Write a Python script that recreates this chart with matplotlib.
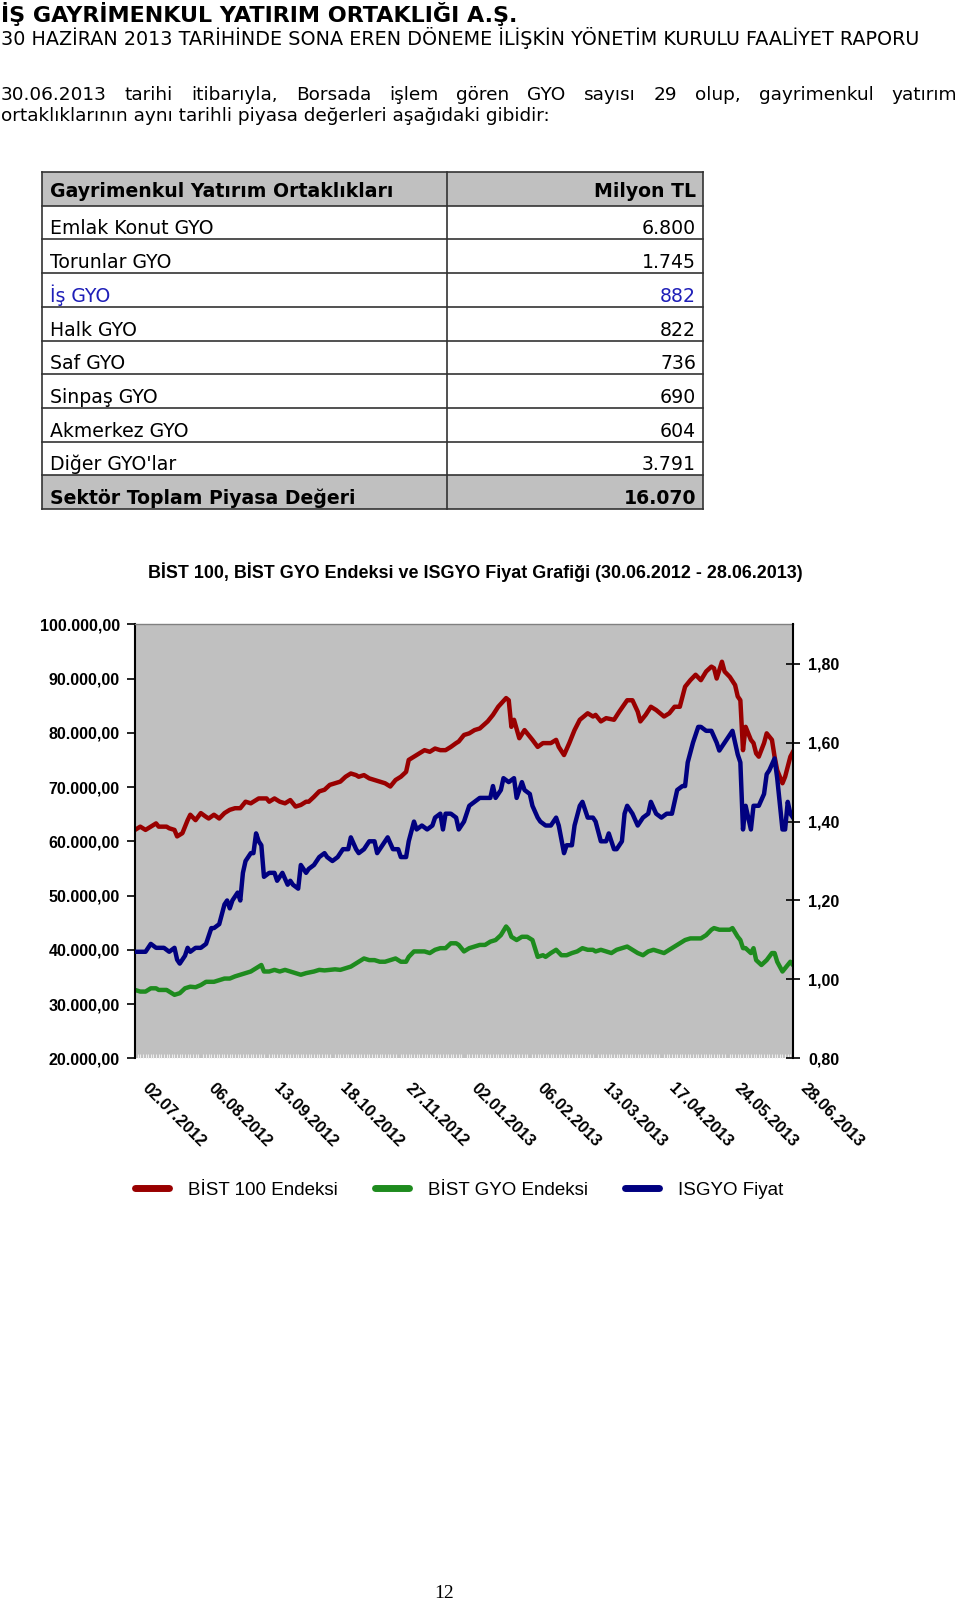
import matplotlib
matplotlib.use('Agg')
import matplotlib.pyplot as plt
import matplotlib.transforms as mtransforms
from matplotlib import font_manager
from matplotlib.lines import Line2D
from matplotlib.patches import Rectangle
from matplotlib.ticker import FuncFormatter, MultipleLocator

W, H = 960, 1605

# ---- page text ----
header_title = 'İŞ GAYRİMENKUL YATIRIM ORTAKLIĞI A.Ş.'
header_sub = '30 HAZİRAN 2013 TARİHİNDE SONA EREN DÖNEME İLİŞKİN YÖNETİM KURULU FAALİYET RAPORU'
para_line1 = '30.06.2013 tarihi itibarıyla, Borsada işlem gören GYO sayısı 29 olup, gayrimenkul yatırım'
para_line2 = 'ortaklıklarının aynı tarihli piyasa değerleri aşağıdaki gibidir:'
page_no = '12'

# ---- table ----
table_cols = ['Gayrimenkul Yatırım Ortaklıkları', 'Milyon TL']
companies = ['Emlak Konut GYO', 'Torunlar GYO', 'İş GYO', 'Halk GYO', 'Saf GYO',
             'Sinpaş GYO', 'Akmerkez GYO', "Diğer GYO'lar"]
values_mtl = [6800, 1745, 882, 822, 736, 690, 604, 3791]
total_label = 'Sektör Toplam Piyasa Değeri'
total_value = 16070

# ---- chart ----
chart_title = 'BİST 100, BİST GYO Endeksi ve ISGYO Fiyat Grafiği (30.06.2012 - 28.06.2013)'
date_labels = ['02.07.2012', '06.08.2012', '13.09.2012', '18.10.2012', '27.11.2012',
               '02.01.2013', '06.02.2013', '13.03.2013', '17.04.2013', '24.05.2013', '28.06.2013']
series_names = ['BİST 100 Endeksi', 'BİST GYO Endeksi', 'ISGYO Fiyat']

# trading day index (0 = 02.07.2012, 250 = 28.06.2013)
bist100_days = [0, 2, 4, 6, 8, 9, 12, 13, 15, 16, 18, 20, 21, 23, 25, 27, 28, 30, 32, 34,
                36, 38, 40, 42, 44, 46, 47, 50, 51, 53, 55, 57, 59, 61, 63, 65, 66, 68, 70, 72,
                74, 76, 78, 80, 82, 84, 85, 87, 89, 91, 93, 95, 97, 99, 101, 103, 104, 106, 108, 110,
                112, 114, 116, 118, 120, 122, 123, 125, 127, 129, 131,
                134, 136, 138, 141, 142, 143, 144, 146, 148, 149, 151, 153, 155, 158, 160, 161, 163, 165, 167, 169,
                172, 174, 175, 177, 179, 182, 184, 187, 189, 191, 192, 194, 196, 198, 201, 203, 205, 207, 209, 211,
                213, 215, 217, 219, 220, 221, 223, 224, 226, 228, 229, 230, 231, 232, 234, 235, 236, 237, 239, 240,
                242, 243, 244, 246, 247, 249, 250]
bist100 = [62100, 62700, 62100, 62700, 63300, 62700, 62700, 62400, 62100, 60900,
           61500, 63900, 64900, 63900, 65200, 64500, 64200, 64900, 64200, 65200,
           65800, 66100, 66100, 67300, 67000, 67600, 67900, 67900, 67300, 67900,
           67300, 67000, 67600, 66400, 66700, 67300, 67300, 68200, 69200, 69500,
           70400, 70700, 71000, 71900, 72500, 72200, 71900, 72200, 71600, 71300,
           71000, 70700, 70100, 71300, 71900, 72800, 75000, 75600, 76200, 76800,
           76500, 77100, 76800, 76800, 77400, 78100, 78400, 79600, 79900, 80500, 80800,
           82100, 83300, 84800, 86400, 86000, 81100, 82400, 79000, 80500, 79900,
           78700, 77400, 78100, 78100, 78700, 77400, 75900, 78100, 80500, 82400,
           83600, 83000, 83300, 82100, 82700, 82400, 83900, 86000, 86000, 83900,
           82100, 83300, 84800, 84200, 83000, 83600, 84800, 84800, 88500, 89700,
           90700, 89700, 91300, 92200, 91900, 90000, 93100, 91300, 90300, 88800,
           86700, 86000, 76800, 81100, 78700, 78100, 76200, 75600, 78100, 79900,
           78700, 75600, 73100, 70700, 71900, 75600, 76500]

gyo_days = [0, 2, 4, 6, 8, 9, 12, 13, 15, 17, 19, 21, 23, 25, 27, 28, 30, 32, 34, 36,
            38, 40, 42, 44, 46, 48, 49, 51, 53, 55, 57, 59, 61, 63, 65, 66, 68, 70, 72, 74,
            76, 78, 80, 82, 84, 85, 87, 89, 91, 93, 95, 97, 99, 101, 103, 104, 106, 108, 110, 112,
            114, 116, 118, 120, 122, 123, 125, 127, 129, 131,
            133, 135, 137, 139, 141, 142, 143, 145, 147, 149, 151, 153, 155, 156, 158, 160, 162, 164, 166, 168,
            170, 172, 174, 175, 177, 179, 181, 183, 185, 187, 189, 191, 193, 195, 197, 199, 201, 203, 205, 207,
            209, 211, 213, 215, 217, 219, 220, 222, 224, 226, 227, 229, 230, 231, 232, 234, 235, 236, 238, 240,
            242, 243, 244, 246, 247, 249, 250]
gyo_index = [32600, 32300, 32300, 32900, 32900, 32600, 32600, 32300, 31700, 32000,
             32900, 33200, 33100, 33500, 34100, 34100, 34100, 34400, 34700, 34700,
             35100, 35400, 35700, 36000, 36600, 37200, 36000, 36000, 36300, 36000,
             36300, 36000, 35700, 35400, 35700, 35800, 36000, 36300, 36200, 36300,
             36400, 36300, 36600, 36900, 37500, 37800, 38400, 38100, 38100, 37800,
             37800, 38100, 38400, 37800, 37800, 38700, 39700, 39700, 39700, 39400,
             40000, 40300, 40300, 41200, 41200, 40900, 39700, 40300, 40600, 40900,
             40900, 41500, 41800, 42700, 44300, 43700, 42400, 41800, 42400, 42400,
             41800, 38700, 39000, 38700, 39400, 40000, 39000, 39000, 39400, 39700,
             40300, 40000, 40000, 39700, 40000, 39700, 39400, 40000, 40300, 40600,
             40000, 39400, 39000, 39700, 40000, 39700, 39400, 40000, 40600, 41200,
             41800, 42100, 42100, 42100, 42700, 43700, 44000, 43700, 43700, 43700,
             44000, 42400, 41800, 40300, 40300, 39400, 40300, 38100, 37200, 38100,
             39400, 39400, 37800, 36000, 36600, 37800, 37200]

isgyo_days = [0, 2, 4, 6, 8, 9, 11, 13, 15, 16, 17, 19, 20, 21, 23, 25, 27, 28, 29, 30,
              32, 34, 35, 36, 37, 39, 40, 41, 42, 44, 45, 46, 47, 48, 49, 51, 53, 54, 56, 58,
              59, 60, 62, 63, 65, 66, 68, 70, 72, 73, 75, 77, 79, 81, 82, 84, 85, 87, 89, 91,
              92, 94, 96, 98, 100, 101, 103, 104, 106, 107, 109, 111, 113, 114, 116, 117, 118, 120, 122, 123,
              125, 127, 129, 131,
              133, 135, 136, 137, 139, 140, 142, 144, 145, 147, 148, 150, 151, 153, 154, 156, 158, 160, 161, 163,
              164, 166, 167, 169, 170, 172, 174, 175, 177, 179, 180, 182, 183, 185, 186, 187, 189, 191, 193, 195,
              196, 198, 200, 202, 204, 206, 208, 209, 210, 212, 214, 215, 217, 219, 221, 222, 224, 225, 227, 229,
              230, 231, 232, 234, 235, 237, 239, 240, 241, 243, 244, 246, 247, 248, 249, 250]
isgyo_price = [1.07, 1.07, 1.07, 1.09, 1.08, 1.08, 1.08, 1.07, 1.08, 1.05,
               1.04, 1.06, 1.08, 1.07, 1.08, 1.08, 1.09, 1.11, 1.13, 1.13,
               1.14, 1.19, 1.20, 1.18, 1.20, 1.22, 1.20, 1.27, 1.30, 1.32,
               1.32, 1.37, 1.35, 1.34, 1.26, 1.27, 1.27, 1.25, 1.27, 1.24,
               1.25, 1.24, 1.23, 1.29, 1.27, 1.28, 1.29, 1.31, 1.32, 1.31,
               1.30, 1.31, 1.33, 1.33, 1.36, 1.33, 1.32, 1.33, 1.35, 1.35,
               1.32, 1.34, 1.36, 1.33, 1.33, 1.31, 1.31, 1.35, 1.40, 1.38,
               1.39, 1.38, 1.39, 1.41, 1.42, 1.38, 1.42, 1.42, 1.41, 1.38,
               1.40, 1.44, 1.45, 1.46,
               1.46, 1.46, 1.49, 1.46, 1.48, 1.51, 1.50, 1.51, 1.46, 1.50,
               1.48, 1.47, 1.44, 1.41, 1.40, 1.39, 1.39, 1.41, 1.39, 1.32,
               1.34, 1.34, 1.39, 1.44, 1.45, 1.41, 1.41, 1.40, 1.35, 1.35,
               1.37, 1.33, 1.33, 1.35, 1.42, 1.44, 1.42, 1.39, 1.41, 1.42,
               1.45, 1.42, 1.41, 1.42, 1.42, 1.48, 1.49, 1.49, 1.55, 1.60,
               1.64, 1.64, 1.63, 1.63, 1.60, 1.58, 1.60, 1.61, 1.63, 1.57,
               1.55, 1.38, 1.44, 1.38, 1.44, 1.44, 1.47, 1.52, 1.53, 1.56,
               1.51, 1.38, 1.38, 1.45, 1.42, 1.41]

colors = ['#990000', '#1e8b1e', '#000080']

installed = {f.name for f in font_manager.fontManager.ttflist}
narrow = 'Liberation Sans Narrow' if 'Liberation Sans Narrow' in installed else 'Liberation Sans'

fig = plt.figure(figsize=(W / 100, H / 100), dpi=100)

# page layer in pixel coordinates
page = fig.add_axes([0, 0, 1, 1])
page.set_xlim(0, W)
page.set_ylim(H, 0)
page.axis('off')

body = dict(family='DejaVu Sans', fontsize=13.3, va='baseline')
page.text(1, 22, header_title, family='DejaVu Sans', fontsize=16, fontweight='bold', va='baseline')
page.text(1, 45, header_sub, family='DejaVu Sans', fontsize=13.8, va='baseline')

# justified first line of the paragraph
words = para_line1.split()
word_texts = [page.text(0, 100, w, **body) for w in words]
renderer = fig.canvas.get_renderer()
widths = [t.get_window_extent(renderer).width for t in word_texts]
gap = (957 - 1 - sum(widths)) / (len(words) - 1)
xpos = 1
for t, w in zip(word_texts, widths):
    t.set_x(xpos)
    xpos += w + gap
page.text(1, 121, para_line2, **body)

# table
t_left, t_div, t_right = 42, 447, 703
t_top, row_h = 172, 33.7
n_rows = len(companies) + 2
fmt_tr = lambda v: f'{v:,}'.replace(',', '.')
for r in [0, n_rows - 1]:
    page.add_patch(Rectangle((t_left, t_top + r * row_h), t_right - t_left, row_h,
                             facecolor='#c0c0c0', edgecolor='none'))
for r in range(n_rows + 1):
    y = t_top + r * row_h
    page.plot([t_left, t_right], [y, y], color='#333333', lw=1.2)
for x in [t_left, t_div, t_right]:
    page.plot([x, x], [t_top, t_top + n_rows * row_h], color='#333333', lw=1.2)

cell = dict(family='DejaVu Sans', fontsize=13.6, va='baseline')
rows = [(table_cols[0], table_cols[1], 'bold', 'black')]
for name, v in zip(companies, values_mtl):
    rows.append((name, fmt_tr(v), 'normal', '#1f1fb8' if name == 'İş GYO' else 'black'))
rows.append((total_label, fmt_tr(total_value), 'bold', 'black'))
for r, (lab, val, wt, col) in enumerate(rows):
    yb = t_top + (r + 1) * row_h - (9 if r == 0 else 5)
    page.text(50, yb, lab, fontweight=wt, color=col, **cell)
    page.text(696, yb, val, fontweight=wt, color=col, ha='right', **cell)

# chart
ax_l, ax_r, ax_t, ax_b = 135, 793, 624.3, 1058.3
ax = fig.add_axes([ax_l / W, 1 - ax_b / H, (ax_r - ax_l) / W, (ax_b - ax_t) / H])
ax.set_facecolor('#c0c0c0')
ax.plot(bist100_days, bist100, color=colors[0], lw=3.2, solid_joinstyle='round')
ax.plot(gyo_days, gyo_index, color=colors[1], lw=3.2, solid_joinstyle='round')
ax2 = ax.twinx()
ax2.plot(isgyo_days, isgyo_price, color=colors[2], lw=3.2, solid_joinstyle='round')

ax.set_xlim(0, 250)
ax.set_ylim(20000, 100000)
ax2.set_ylim(0.8, 1.9)
ax.yaxis.set_major_locator(MultipleLocator(10000))
ax2.yaxis.set_major_locator(MultipleLocator(0.2))
ax.yaxis.set_major_formatter(FuncFormatter(
    lambda v, p: f'{v:,.2f}'.replace(',', ' ').replace('.', ',').replace(' ', '.')))
ax2.yaxis.set_major_formatter(FuncFormatter(lambda v, p: f'{v:.2f}'.replace('.', ',')))

tick_font = dict(family='Liberation Sans', size=11.5, weight='bold')
ax.tick_params(axis='y', direction='out', length=6, width=1.2, pad=5)
ax2.tick_params(axis='y', direction='inout', length=10, width=1.2, pad=6)
for lbl in ax.get_yticklabels() + ax2.get_yticklabels():
    lbl.set(**tick_font)

ax.set_xticks(range(0, 251, 25))
ax.set_xticklabels(date_labels, rotation=-45, ha='left', va='top', rotation_mode='anchor',
                   family='Liberation Sans', size=12, weight='bold')
ax.set_xticks(range(0, 251), minor=True)
ax.tick_params(axis='x', which='major', length=0, pad=16)
ax.tick_params(axis='x', which='minor', direction='in', length=3, width=0.8, color='#eeeeee')
shift = mtransforms.ScaledTranslation(15 / 100, 0, fig.dpi_scale_trans)
for lbl in ax.get_xticklabels():
    lbl.set_transform(lbl.get_transform() + shift)

for sp in ['left', 'right', 'bottom', 'top']:
    ax2.spines[sp].set_visible(False)
ax2.spines['right'].set_visible(True)
ax2.spines['right'].set_linewidth(1.5)
ax.spines['right'].set_visible(False)
ax.spines['bottom'].set_visible(False)
ax.spines['left'].set_linewidth(1.5)
ax.spines['top'].set_color('#808080')
ax.spines['top'].set_linewidth(1)

page.text(475, 572, chart_title, family=narrow, fontsize=12.9, fontweight='bold',
          ha='center', va='center')

handles = [Line2D([], [], color=c, lw=5, solid_capstyle='round') for c in colors]
fig.legend(handles, series_names, loc='center', bbox_to_anchor=(459 / W, 1 - 1190 / H),
           ncol=3, frameon=False, prop=dict(family=narrow, size=13.5),
           handlelength=1.85, handletextpad=1.0, columnspacing=1.95, borderpad=0, borderaxespad=0)

page.text(444, 1598, page_no, family='Liberation Serif', fontsize=14, ha='center', va='baseline')

fig.savefig('out.png', dpi=100)
